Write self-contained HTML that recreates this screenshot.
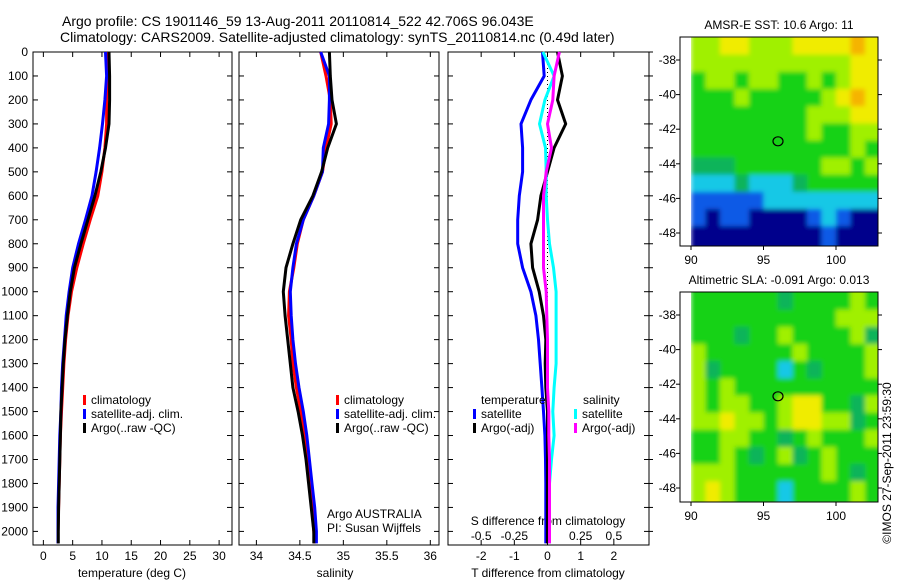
<!DOCTYPE html>
<html><head><meta charset="utf-8"><style>
body{margin:0;background:#fff;width:900px;height:580px;overflow:hidden}
svg text{font-family:"Liberation Sans",sans-serif;font-size:12px;fill:#000}
svg text.title{font-size:14px}
</style></head><body>
<svg id="chart" width="900" height="580">
<defs>
<filter id="soft" x="-5%" y="-5%" width="110%" height="110%"><feGaussianBlur stdDeviation="2.5"/></filter>
<clipPath id="clipTop"><rect x="691" y="37" width="187" height="209"/></clipPath>
<clipPath id="clipBot"><rect x="691" y="292" width="187" height="210"/></clipPath>
</defs>
</svg>
<script>
const depths=[0,100,200,300,400,500,600,700,800,900,1000,1100,1200,1300,1400,1500,1600,1700,1800,1900,2000,2050];
const tempClim=[11.0,11.0,10.8,10.8,10.5,10.0,9.3,8.0,6.8,5.7,4.8,4.2,3.8,3.5,3.3,3.1,2.9,2.8,2.7,2.6,2.5,2.5];
const tempSat=[10.6,10.8,10.5,10.1,9.6,9.0,8.3,7.2,6.0,5.0,4.4,3.9,3.6,3.3,3.1,3.0,2.8,2.7,2.6,2.5,2.5,2.5];
const tempArgo=[11.2,11.3,11.3,11.2,10.6,9.8,8.8,7.6,6.4,5.3,4.6,4.1,3.7,3.4,3.2,3.0,2.9,2.8,2.7,2.6,2.55,2.55];
const salClim=[34.74,34.80,34.85,34.86,34.80,34.76,34.66,34.54,34.47,34.43,34.38,34.37,34.40,34.42,34.46,34.51,34.55,34.58,34.61,34.64,34.66,34.67];
const salSat=[34.74,34.84,34.84,34.83,34.77,34.76,34.66,34.54,34.46,34.42,34.39,34.40,34.42,34.45,34.49,34.54,34.58,34.61,34.64,34.67,34.69,34.69];
const salArgo=[34.84,34.85,34.87,34.92,34.82,34.75,34.65,34.51,34.42,34.34,34.31,34.33,34.36,34.39,34.42,34.48,34.53,34.57,34.60,34.63,34.66,34.66];
const dTsat=[-0.15,-0.1,-0.5,-0.8,-0.75,-0.75,-0.85,-0.9,-0.9,-0.75,-0.5,-0.35,-0.27,-0.22,-0.17,-0.12,-0.08,-0.06,-0.05,-0.05,-0.05,-0.05];
const dTargo=[0.3,0.45,0.3,0.55,0.2,0.0,-0.2,-0.3,-0.5,-0.45,-0.25,-0.12,-0.05,-0.07,-0.05,0,0,0,0,0,0,0];
const dSsat=[-0.035,0.05,-0.02,-0.06,-0.015,-0.01,-0.01,0,0.015,0.045,0.065,0.065,0.065,0.065,0.05,0.04,0.05,0.03,0.015,0.015,0.015,0.015];
const dSargo=[0.09,0.05,0.04,0.0,0.03,-0.01,-0.03,-0.03,-0.03,-0.03,-0.01,-0.005,0,0,0,0.01,0.01,0.015,0.015,0.015,0.015,0.015];
const depthTicks=[0,100,200,300,400,500,600,700,800,900,1000,1100,1200,1300,1400,1500,1600,1700,1800,1900,2000];
const tempTicks=[0,5,10,15,20,25,30];
const salTicks=[34,34.5,35,35.5,36];
const salTickLabels=["34","34.5","35","35.5","36"];
const dTTicks=[-2,-1,0,1,2];
const dSTicks=[-0.5,-0.25,0,0.25,0.5];
const dSTickLabels=["-0.5","-0.25","0","0.25","0.5"];
const latTicks=[-38,-40,-42,-44,-46,-48];
const lonTicks=[90,95,100];
const argoLon=96.0, argoLat=-42.7;
const sstGrid=[
[6,6,7,7,6,6,6,7,7,7,7,8,7],
[6,6,6,6,6,6,6,6,6,6,6,7,7],
[5,6,6,5,6,6,5,5,6,5,6,7,7],
[5,5,5,6,5,5,5,5,5,6,7,8,7],
[5,5,5,5,5,5,5,5,6,6,6,7,7],
[5,5,5,5,5,5,5,5,6,5,5,6,6],
[5,5,5,5,5,5,5,5,5,5,5,6,5],
[4,4,4,5,5,5,5,5,5,6,6,5,6],
[3,3,3,4,3,3,3,4,5,5,5,5,5],
[2,2,2,2,2,3,3,3,3,3,3,3,3],
[2,1,2,2,1,1,1,1,2,3,2,1,1],
[1,1,1,1,1,1,1,1,1,2,1,1,1]];
const slaGrid=[
[5,5,5,5,5,5,4,5,5,5,5,6,5],
[5,5,5,5,5,5,5,5,5,5,6,6,6],
[5,5,5,4,5,5,6,5,5,5,5,6,4],
[6,5,5,5,5,5,5,6,5,5,5,5,6],
[6,4,5,5,5,5,3,5,4,5,5,5,6],
[6,5,6,5,5,5,5,5,5,5,5,5,5],
[6,5,6,6,5,5,6,7,7,5,5,4,6],
[6,6,7,6,6,5,6,7,7,6,6,4,5],
[5,5,6,6,5,5,4,5,6,5,5,5,6],
[5,5,6,5,4,5,6,4,5,6,5,5,5],
[6,6,6,5,5,5,5,5,5,6,5,4,5],
[6,7,6,5,5,5,3,5,5,5,5,6,5]];
const palette=["","#00008c","#0a5ae6","#14c8e6","#0fb45a","#14d214","#a0f000","#f0ec00","#f5b400"];

const NS="http://www.w3.org/2000/svg";
const svg=document.getElementById('chart');
function el(tag,attrs,parent){const e=document.createElementNS(NS,tag);for(const k in attrs)e.setAttribute(k,attrs[k]);(parent||svg).appendChild(e);return e;}
function txt(x,y,s,anchor,parent){const t=el('text',{x:x,y:y,'text-anchor':anchor||'start'},parent);t.textContent=s;return t;}

const top0=52, bot=545, dMax=(545-52)/0.2397;
const yD=d=>top0+d/dMax*(bot-top0);
function mkX(x0,x1,v0,v1){return v=>x0+(v-v0)/(v1-v0)*(x1-x0);}
const P1={x0:33,x1:232}, P2={x0:239,x1:439}, P3={x0:448,x1:649};
const xT=mkX(P1.x0,P1.x1,-1.77,32.2);
const xS=mkX(P2.x0,P2.x1,33.80,36.10);
const xDT=mkX(P3.x0,P3.x1,-3,3.06);
const xDS=v=>xDT(v*4);

let t=txt(62,26,"Argo profile: CS 1901146_59 13-Aug-2011 20110814_522 42.706S 96.043E","start");
t.setAttribute('class','title');

t=txt(60,42,"Climatology: CARS2009. Satellite-adjusted climatology: synTS_20110814.nc (0.49d later)","start");
t.setAttribute('class','title');


function panel(P,name,leftLabels,rightTicks){
  const g=el('g',{});
  
  
  el('rect',{x:P.x0,y:top0,width:P.x1-P.x0,height:bot-top0,fill:'none',stroke:'#000','stroke-width':1},g);
  depthTicks.forEach(d=>{const y=yD(d);
    el('line',{x1:P.x0,x2:P.x0+5,y1:y,y2:y,stroke:'#000'},g);
    el('line',{x1:P.x1,x2:P.x1-5,y1:y,y2:y,stroke:'#000'},g);
    if(rightTicks)el('line',{x1:P.x1,x2:P.x1+4,y1:y,y2:y,stroke:'#000'},g);
    if(leftLabels){const l=txt(28,y+4,String(d),'end',g);}
  });
  return g;
}
function line(g,xs,xf,color,name){
  const pts=depths.map((d,i)=>xf(xs[i]).toFixed(1)+','+yD(d).toFixed(1)).join(' ');
  const p=el('polyline',{points:pts,fill:'none',stroke:color,'stroke-width':3,'stroke-linejoin':'round'},g);
  
}
function xticks(g,P,ticks,labels,xf,y){
  ticks.forEach((v,i)=>{const x=xf(v);
    el('line',{x1:x,x2:x,y1:bot,y2:bot-5,stroke:'#000'},g);
    el('line',{x1:x,x2:x,y1:top0,y2:top0+5,stroke:'#000'},g);
    const l=txt(x,y,labels[i],'middle',g);});
}
function legend(g,x,y,items){
  items.forEach((it,i)=>{
    el('rect',{x:x,y:y+i*14-9,width:3,height:10,fill:it[0]},g);
    const l=txt(x+8,y+i*14,it[1],'start',g);});
}
const g1=panel(P1,'temperature-panel',true,false);
xticks(g1,P1,tempTicks,tempTicks.map(String),xT,560);
line(g1,tempClim,xT,'#f00','temp-climatology-line');
line(g1,tempSat,xT,'#00f','temp-satellite-line');
line(g1,tempArgo,xT,'#000','temp-argo-line');
t=txt(132,577,"temperature (deg C)",'middle',g1);
legend(g1,83,404,[['#f00','climatology'],['#00f','satellite-adj. clim.'],['#000','Argo(..raw -QC)']]);
const g2=panel(P2,'salinity-panel',false,false);
xticks(g2,P2,salTicks,salTickLabels,xS,560);
line(g2,salClim,xS,'#f00','sal-climatology-line');
line(g2,salSat,xS,'#00f','sal-satellite-line');
line(g2,salArgo,xS,'#000','sal-argo-line');
t=txt(335,577,"salinity",'middle',g2);
legend(g2,336,404,[['#f00','climatology'],['#00f','satellite-adj. clim.'],['#000','Argo(..raw -QC)']]);
t=txt(327,518,"Argo AUSTRALIA",'start',g2);
t=txt(327,532,"PI: Susan Wijffels",'start',g2);
const g3=panel(P3,'difference-panel',false,true);
dTTicks.forEach(v=>{const x=xDT(v);el('line',{x1:x,x2:x,y1:bot,y2:bot-5,stroke:'#000'},g3);el('line',{x1:x,x2:x,y1:top0,y2:top0+5,stroke:'#000'},g3);
  const l=txt(x,560,String(v),'middle',g3);});
dSTicks.forEach((v,i)=>{const l=txt(xDS(v),540,dSTickLabels[i],'middle',g3);});
t=txt(548,525,"S difference from climatology",'middle',g3);
t=txt(548,577,"T difference from climatology",'middle',g3);
el('line',{x1:xDT(0),x2:xDT(0),y1:top0,y2:bot,stroke:'#000','stroke-dasharray':'1,3'},g3);
line(g3,dTsat,xDT,'#00f','t-diff-satellite-line');
line(g3,dTargo,xDT,'#000','t-diff-argo-line');
line(g3,dSsat,xDS,'#0ff','s-diff-satellite-line');
line(g3,dSargo,xDS,'#f0f','s-diff-argo-line');
t=txt(481,404,"temperature",'start',g3);
t=txt(583,404,"salinity",'start',g3);
legend(g3,473,418,[['#00f','satellite'],['#000','Argo(-adj)']]);
legend(g3,574,418,[['#0ff','satellite'],['#f0f','Argo(-adj)']]);
function map(y0,y1,grid,title,name,clip){
  const g=el('g',{});
  
  const X0=680,X1=878;
  const lonX=mkX(691,836,90,100);
  const latY=mkX(y0+23,y0+196,-38,-48);
  const lon0=90,lon1=103,lat0=-36.7,lat1=-48.6;
  const nr=grid.length,nc=grid[0].length;
  const dlon=(lon1-lon0)/nc,dlat=(lat0-lat1)/nr;
  const outer=el('g',{'clip-path':'url(#'+clip+')'},g);
  const cells=el('g',{filter:'url(#soft)'},outer);
  grid.forEach((row,r)=>row.forEach((v,c)=>{
    const xa=lonX(lon0+c*dlon),xb=lonX(lon0+(c+1)*dlon);
    const ya=latY(lat0-r*dlat),yb=latY(lat0-(r+1)*dlat);
    const pad=(c===0?-4:0);
    const cell=el('rect',{x:xa,y:ya-(r===0?6:0),width:xb-xa+0.5+(c===nc-1?6:0),height:yb-ya+0.5+(r===0?6:0)+(r===nr-1?6:0),fill:palette[v]},cells);
    
  }));
  el('rect',{x:X0,y:y0,width:X1-X0,height:y1-y0,fill:'none',stroke:'#000'},g);
  latTicks.forEach(v=>{const y=latY(v);el('line',{x1:X0,x2:X0-4,y1:y,y2:y,stroke:'#000'},g);el('line',{x1:X1,x2:X1+4,y1:y,y2:y,stroke:'#000'},g);
    const l=txt(676,y+4,String(v),'end',g);});
  lonTicks.forEach(v=>{const x=lonX(v);el('line',{x1:x,x2:x,y1:y1,y2:y1+4,stroke:'#000'},g);
    const l=txt(x,y1+18,String(v),'middle',g);});
  const tt=txt(779,y0-8,title,'middle',g);
  const c=el('ellipse',{cx:lonX(argoLon),cy:latY(argoLat),rx:5,ry:4.5,fill:'none',stroke:'#000','stroke-width':1.2},g);
  
}
map(37,246,sstGrid,"AMSR-E SST: 10.6 Argo: 11",'sst-map','clipTop');
map(292,502,slaGrid,"Altimetric SLA: -0.091  Argo: 0.013",'sla-map','clipBot');
t=txt(0,0,"©IMOS 27-Sep-2011 23:59:30",'middle');
t.setAttribute('transform','translate(891,463) rotate(-90)');

</script>
</body></html>
